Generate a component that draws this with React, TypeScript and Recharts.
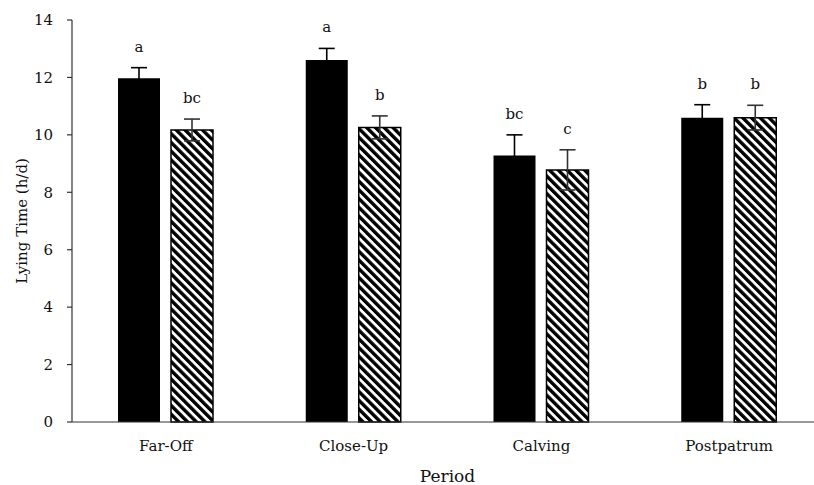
import React from 'react';
import { BarChart, Bar, XAxis, YAxis, ErrorBar, LabelList } from 'recharts';

const categories = ['Far-Off', 'Close-Up', 'Calving', 'Postpatrum'];
const blackValues = [11.97, 12.61, 9.28, 10.6];
const blackErrors = [0.37, 0.4, 0.72, 0.45];
const blackLetters = ['a', 'a', 'bc', 'b'];
const hatchValues = [10.17, 10.26, 8.78, 10.6];
const hatchErrors = [0.38, 0.4, 0.7, 0.43];
const hatchLetters = ['bc', 'b', 'c', 'b'];
const yTicks = [0, 2, 4, 6, 8, 10, 12, 14];

const data = categories.map((c, i) => ({
  period: c,
  black: blackValues[i],
  blackErr: blackErrors[i],
  blackLetter: blackLetters[i],
  hatch: hatchValues[i],
  hatchErr: hatchErrors[i],
  hatchLetter: hatchLetters[i],
}));

const FONT = '"DejaVu Serif", serif';

const letterRenderer = (valKey: string, errKey: string) => (props: any) => {
  const { x, y, width, height, value, index } = props;
  const d = data[index];
  if (!d) return null;
  const pxPerUnit = Number(height) / d[valKey];
  const errTop = Number(y) - d[errKey] * pxPerUnit;
  return (
    <text
      x={Number(x) + Number(width) / 2}
      y={errTop - 16}
      textAnchor="middle"
      fontFamily={FONT}
      fontSize={15}
      fill="#111"
    >
      {value}
    </text>
  );
};

const YLabel = (props: any) => {
  const vb = props.viewBox || {};
  const cy = vb.y + vb.height / 2;
  return (
    <text
      x={0}
      y={0}
      transform={`translate(27, ${cy}) rotate(-90)`}
      textAnchor="middle"
      fontFamily={FONT}
      fontSize={15}
      fill="#111"
    >
      Lying Time (h/d)
    </text>
  );
};

const XLabel = (props: any) => {
  const vb = props.viewBox || {};
  const cx = vb.x + vb.width / 2;
  return (
    <text x={cx} y={482} textAnchor="middle" fontFamily={FONT} fontSize={17} fill="#111">
      Period
    </text>
  );
};

export default function App() {
  return (
    <div style={{ position: 'absolute', left: 0, top: 0, width: 814, height: 485, overflow: 'hidden', background: '#fff' }}>
      <BarChart
        width={823}
        height={485}
        data={data}
        margin={{ top: 20, right: 0, bottom: 0, left: 0 }}
        barSize={42}
        barGap={11}
      >
        <defs>
          <pattern id="hatch" width="6.2" height="6.2" patternUnits="userSpaceOnUse" patternTransform="rotate(-45)">
            <rect width="6.2" height="6.2" fill="#fff" />
            <rect x="0" y="0" width="3.4" height="6.2" fill="#000" />
          </pattern>
        </defs>
        <XAxis
          dataKey="period"
          height={63}
          tickLine={false}
          tickSize={0}
          tickMargin={18}
          axisLine={{ stroke: '#333', strokeWidth: 1.2 }}
          tick={{ fontFamily: FONT, fontSize: 15, fill: '#111' }}
          label={<XLabel />}
        />
        <YAxis
          width={72}
          domain={[0, 14]}
          ticks={yTicks}
          interval={0}
          tickSize={5}
          tickMargin={14}
          axisLine={{ stroke: '#333', strokeWidth: 1.2 }}
          tickLine={{ stroke: '#333', strokeWidth: 1.2 }}
          tick={{ fontFamily: FONT, fontSize: 15, fill: '#111' }}
          label={<YLabel />}
        />
        <Bar dataKey="black" fill="#000" isAnimationActive={false}>
          <ErrorBar dataKey="blackErr" width={8} stroke="#000" strokeWidth={1.6} direction="y" isAnimationActive={false} />
          <LabelList dataKey="blackLetter" content={letterRenderer('black', 'blackErr')} />
        </Bar>
        <Bar dataKey="hatch" fill="url(#hatch)" stroke="#000" strokeWidth={1.5} isAnimationActive={false}>
          <ErrorBar dataKey="hatchErr" width={8} stroke="#333" strokeWidth={1.6} direction="y" isAnimationActive={false} />
          <LabelList dataKey="hatchLetter" content={letterRenderer('hatch', 'hatchErr')} />
        </Bar>
      </BarChart>
    </div>
  );
}
